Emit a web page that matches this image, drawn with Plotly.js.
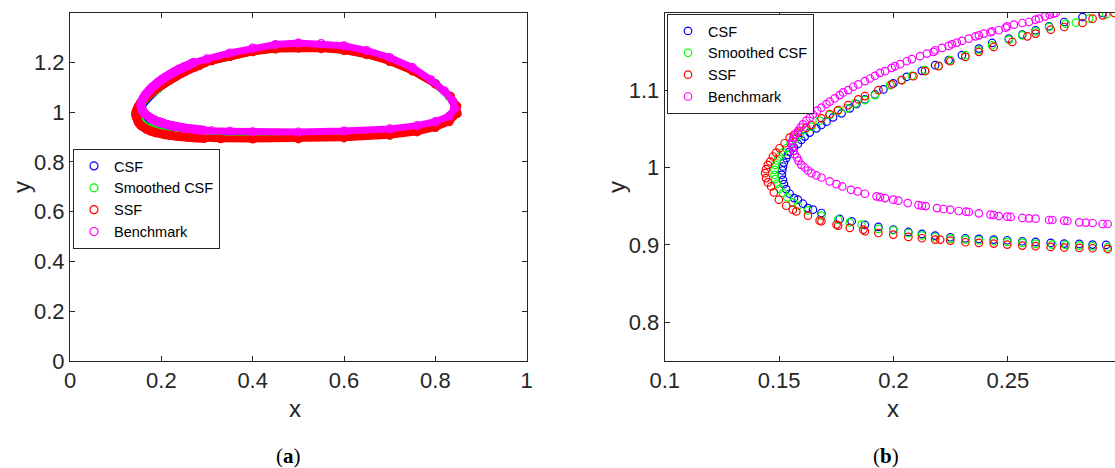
<!DOCTYPE html>
<html>
<head>
<meta charset="utf-8">
<script src="https://cdn.plot.ly/plotly-3.0.1.min.js"></script>
<style>html,body{margin:0;padding:0;background:#fff;}#chart{width:1115px;height:468px;}</style>
</head>
<body>
<div id="chart"></div>
<script>
// ---- Data ----
const seriesNames = ['CSF', 'Smoothed CSF', 'SSF', 'Benchmark'];

const csfX = [0.2914,0.2826,0.2746,0.2680,0.2621,0.2563,0.2504,0.2431,0.2373,0.2299,0.2241,0.2182,0.2124,0.2058,0.1999,0.1956,0.1919,0.1875,0.1838,0.1809,0.1773,0.1736,0.1707,0.1685,0.1663,0.1634,0.1612,0.1597,0.1582,0.1565,0.1546,0.1538,0.1531,0.1521,0.1517,0.1514,0.1512,0.1517,0.1521,0.1531,0.1546,0.1565,0.1582,0.1604,0.1626,0.1648,0.1685,0.1765,0.1817,0.1875,0.1934,0.1999,0.2065,0.2124,0.2182,0.2248,0.2314,0.2373,0.2438,0.2497,0.2563,0.2621,0.2687,0.2746,0.2812,0.2870,0.2929,
  0.33,0.40,0.50,0.60,0.70,0.76,0.80,0.83,0.845,0.843,0.83,0.80,0.75,0.70,0.65,0.60,0.55,0.50,0.45,0.40,0.35,0.31];
const csfY = [1.1996,1.1944,1.1880,1.1824,1.1773,1.1717,1.1665,1.1609,1.1536,1.1451,1.1386,1.1322,1.1249,1.1172,1.1086,1.1009,1.0944,1.0880,1.0820,1.0764,1.0700,1.0648,1.0592,1.0549,1.0506,1.0451,1.0399,1.0356,1.0305,1.0258,1.0206,1.0163,1.0120,1.0064,1.0013,0.9961,0.9906,0.9841,0.9785,0.9721,0.9661,0.9605,0.9584,0.9532,0.9476,0.9455,0.9412,0.9335,0.9305,0.9258,0.9232,0.9197,0.9167,0.9142,0.9120,0.9099,0.9086,0.9077,0.9069,0.9060,0.9047,0.9039,0.9026,0.9017,0.9013,0.9004,0.9000,
  0.8985,0.8975,0.8975,0.9010,0.9110,0.9250,0.9420,0.9650,0.9950,1.0250,1.0650,1.1150,1.1680,1.2060,1.2330,1.2500,1.2580,1.2600,1.2560,1.2450,1.2260,1.2070];

const smoothX = [0.2965,0.2929,0.2855,0.2797,0.2753,0.2680,0.2621,0.2563,0.2504,0.2431,0.2373,0.2314,0.2248,0.2197,0.2138,0.2080,0.2036,0.1985,0.1919,0.1875,0.1831,0.1795,0.1755,0.1721,0.1677,0.1641,0.1612,0.1590,0.1568,0.1550,0.1531,0.1517,0.1502,0.1492,0.1483,0.1480,0.1480,0.1483,0.1492,0.1502,0.1517,0.1536,0.1560,0.1582,0.1626,0.1685,0.1758,0.1809,0.1860,0.1934,0.1999,0.2065,0.2124,0.2182,0.2248,0.2314,0.2373,0.2438,0.2497,0.2563,0.2621,0.2694,0.2753,0.2812,0.2870,0.2936,
  0.33,0.40,0.50,0.60,0.70,0.76,0.80,0.83,0.846,0.844,0.83,0.80,0.75,0.70,0.65,0.60,0.55,0.50,0.45,0.40,0.35,0.31];
const smoothY = [1.1996,1.1979,1.1923,1.1871,1.1858,1.1815,1.1760,1.1708,1.1652,1.1579,1.1515,1.1451,1.1386,1.1313,1.1258,1.1185,1.1129,1.1064,1.0936,1.0871,1.0828,1.0764,1.0730,1.0678,1.0605,1.0528,1.0485,1.0421,1.0365,1.0313,1.0249,1.0193,1.0142,1.0090,1.0034,0.9970,0.9906,0.9850,0.9790,0.9725,0.9670,0.9614,0.9549,0.9506,0.9446,0.9378,0.9326,0.9292,0.9262,0.9206,0.9189,0.9154,0.9124,0.9099,0.9082,0.9069,0.9060,0.9047,0.9039,0.9026,0.9017,0.9004,0.9000,0.8991,0.8983,0.8970,
  0.8960,0.8955,0.8960,0.9000,0.9100,0.9240,0.9410,0.9640,0.9950,1.0250,1.0640,1.1140,1.1670,1.2050,1.2320,1.2490,1.2570,1.2590,1.2550,1.2440,1.2250,1.2080];

const ssfX = [0.2965,0.2914,0.2870,0.2826,0.2746,0.2687,0.2621,0.2585,0.2519,0.2438,0.2373,0.2314,0.2248,0.2197,0.2138,0.2087,0.2036,0.1992,0.1934,0.1875,0.1846,0.1802,0.1758,0.1721,0.1685,0.1641,0.1619,0.1582,0.1565,0.1546,0.1524,0.1502,0.1487,0.1473,0.1461,0.1451,0.1443,0.1439,0.1443,0.1451,0.1465,0.1477,0.1499,0.1531,0.1560,0.1575,0.1626,0.1677,0.1685,0.1751,0.1758,0.1809,0.1868,0.1875,0.1934,0.1999,0.2065,0.2124,0.2182,0.2204,0.2248,0.2314,0.2373,0.2438,0.2497,0.2563,0.2621,0.2687,0.2746,0.2812,0.2870,0.2936,
  0.33,0.40,0.50,0.60,0.70,0.76,0.80,0.83,0.848,0.847,0.833,0.80,0.75,0.70,0.65,0.60,0.55,0.50,0.45,0.40,0.35,0.31];
const ssfY = [1.1996,1.1966,1.1923,1.1867,1.1815,1.1781,1.1730,1.1695,1.1622,1.1558,1.1494,1.1429,1.1373,1.1309,1.1245,1.1180,1.1129,1.1073,1.1000,1.0923,1.0880,1.0807,1.0742,1.0691,1.0635,1.0549,1.0515,1.0451,1.0421,1.0386,1.0313,1.0249,1.0193,1.0142,1.0077,1.0034,0.9979,0.9927,0.9863,0.9807,0.9755,0.9678,0.9584,0.9506,0.9455,0.9433,0.9378,0.9313,0.9305,0.9262,0.9249,0.9219,0.9197,0.9176,0.9154,0.9133,0.9103,0.9086,0.9069,0.9069,0.9056,0.9034,0.9026,0.9017,0.9004,0.8991,0.8983,0.8974,0.8966,0.8961,0.8957,0.8948,
  0.8935,0.8925,0.8930,0.8970,0.9070,0.9210,0.9390,0.9620,0.9950,1.0250,1.0640,1.1130,1.1660,1.2040,1.2310,1.2480,1.2560,1.2580,1.2540,1.2430,1.2240,1.2070];

const benchX = [0.2709,0.2699,0.2683,0.2662,0.2636,0.2621,0.2592,0.2563,0.2526,0.2497,0.2490,0.2460,0.2431,0.2424,0.2394,0.2373,0.2358,0.2329,0.2299,0.2277,0.2255,0.2241,0.2212,0.2182,0.2175,0.2146,0.2116,0.2080,0.2058,0.2029,0.2007,0.1992,0.1963,0.1941,0.1919,0.1897,0.1875,0.1846,0.1824,0.1802,0.1780,0.1765,0.1743,0.1721,0.1707,0.1685,0.1667,0.1648,0.1634,0.1619,0.1604,0.1594,0.1582,0.1571,0.1563,0.1558,0.1556,
  0.1558,0.1562,0.1568,0.1578,0.1585,0.1597,0.1612,0.1626,0.1641,0.1663,0.1685,0.1721,0.1751,0.1776,0.1814,0.1843,0.1875,0.1926,0.1941,0.1963,0.1999,0.2021,0.2062,0.2109,0.2124,0.2141,0.2190,0.2219,0.2248,0.2285,0.2317,0.2329,0.2373,0.2424,0.2438,0.2460,0.2497,0.2512,0.2563,0.2592,0.2621,0.2680,0.2694,0.2746,0.2760,0.2812,0.2841,0.2870,0.2914,0.2936,
  0.31,0.35,0.40,0.50,0.60,0.70,0.76,0.80,0.83,0.842,0.838,0.82,0.79,0.75,0.70,0.65,0.60,0.55,0.50,0.45,0.40,0.35,0.30];
const benchY = [1.1996,1.1987,1.1974,1.1953,1.1923,1.1910,1.1880,1.1867,1.1845,1.1824,1.1807,1.1773,1.1760,1.1747,1.1730,1.1708,1.1695,1.1665,1.1635,1.1614,1.1592,1.1571,1.1545,1.1515,1.1494,1.1472,1.1438,1.1399,1.1373,1.1335,1.1309,1.1288,1.1245,1.1223,1.1185,1.1150,1.1116,1.1073,1.1043,1.1000,1.0970,1.0936,1.0893,1.0850,1.0820,1.0773,1.0734,1.0687,1.0644,1.0605,1.0558,1.0519,1.0472,1.0429,1.0386,1.0343,1.0300,
  1.0258,1.0215,1.0172,1.0129,1.0086,1.0034,1.0000,0.9961,0.9927,0.9897,0.9871,0.9820,0.9785,0.9755,0.9712,0.9691,0.9661,0.9627,0.9618,0.9605,0.9584,0.9571,0.9541,0.9515,0.9506,0.9502,0.9476,0.9464,0.9455,0.9438,0.9429,0.9425,0.9408,0.9391,0.9386,0.9373,0.9365,0.9361,0.9348,0.9343,0.9339,0.9322,0.9322,0.9313,0.9309,0.9292,0.9288,0.9283,0.9270,0.9270,
  0.9255,0.9235,0.9215,0.9205,0.9240,0.9330,0.9460,0.9620,0.9840,1.0150,1.0450,1.0850,1.1300,1.1790,1.2200,1.2480,1.2670,1.2760,1.2780,1.2720,1.2580,1.2380,1.2140];

// Tick values / labels
const leftXTicks = [0, 0.2, 0.4, 0.6, 0.8, 1];
const leftXLabels = ['0', '0.2', '0.4', '0.6', '0.8', '1'];
const leftYTicks = [0, 0.2, 0.4, 0.6, 0.8, 1, 1.2];
const leftYLabels = ['0', '0.2', '0.4', '0.6', '0.8', '1', '1.2'];
const rightXTicks = [0.1, 0.15, 0.2, 0.25];
const rightXLabels = ['0.1', '0.15', '0.2', '0.25'];
const rightYTicks = [0.8, 0.9, 1, 1.1];
const rightYLabels = ['0.8', '0.9', '1', '1.1'];

// ---- Styling ----
const colors = ['#0000ff', '#00ff00', '#ff0000', '#ff00ff'];
const xs = [csfX, smoothX, ssfX, benchX];
const ys = [csfY, smoothY, ssfY, benchY];
const SANS = '"Liberation Sans", Arial, Helvetica, sans-serif';
const AX = '#262626';

const traces = [];
// left panel: band (closed path) + ring markers
for (let i = 0; i < 4; i++) {
  traces.push({
    x: xs[i].concat([xs[i][0]]), y: ys[i].concat([ys[i][0]]),
    mode: 'lines', line: {color: colors[i], width: 7},
    xaxis: 'x', yaxis: 'y', showlegend: false, hoverinfo: 'skip'
  });
  traces.push({
    x: xs[i], y: ys[i], mode: 'markers', name: seriesNames[i],
    marker: {symbol: 'circle-open', size: 8, color: colors[i], line: {width: 1.2, color: colors[i]}},
    xaxis: 'x', yaxis: 'y', legend: 'legend'
  });
}
// right panel: zoomed markers
for (let i = 0; i < 4; i++) {
  traces.push({
    x: xs[i], y: ys[i], mode: 'markers', name: seriesNames[i],
    marker: {symbol: 'circle-open', size: 7.5, color: colors[i], line: {width: 1.2, color: colors[i]}},
    xaxis: 'x2', yaxis: 'y2', legend: 'legend2'
  });
}

const W = 1115, H = 468;
const baseAxis = {
  showline: true, linecolor: AX, linewidth: 1, ticks: 'inside', ticklen: 5, tickwidth: 1,
  tickcolor: AX, showgrid: false, zeroline: false, mirror: 'ticks',
  tickfont: {family: SANS, size: 22, color: AX}, tickmode: 'array'
};
const yDom = [1 - 361 / H, 1 - 12.7 / H];
const legendBase = {
  xanchor: 'left', yanchor: 'top', bgcolor: '#ffffff', bordercolor: AX, borderwidth: 1,
  font: {family: SANS, size: 14.5, color: '#000'}, itemwidth: 30
};

const titleFont = {family: SANS, size: 24, color: AX};
const capFont = {family: '"Liberation Serif", "DejaVu Serif", serif', size: 21, color: '#000'};
const layout = {
  width: W, height: H, margin: {l: 0, r: 0, t: 0, b: 0},
  paper_bgcolor: '#fff', plot_bgcolor: '#fff', showlegend: true,
  xaxis: Object.assign({}, baseAxis, {domain: [70 / W, 526.7 / W], range: [0, 1], tickvals: leftXTicks, ticktext: leftXLabels, anchor: 'y'}),
  yaxis: Object.assign({}, baseAxis, {domain: yDom, range: [0, 1.4], tickvals: leftYTicks, ticktext: leftYLabels, anchor: 'x'}),
  xaxis2: Object.assign({}, baseAxis, {domain: [664.7 / W, 1], range: [0.1, 0.2968], tickvals: rightXTicks, ticktext: rightXLabels, anchor: 'y2'}),
  yaxis2: Object.assign({}, baseAxis, {domain: yDom, range: [0.75, 1.2], tickvals: rightYTicks, ticktext: rightYLabels, anchor: 'x2', mirror: false}),
  legend: Object.assign({}, legendBase, {x: 73 / W, y: 1 - 149 / H}),
  legend2: Object.assign({}, legendBase, {x: 667 / W, y: 1 - 14 / H}),
  annotations: [
    {text: 'x', xref: 'paper', yref: 'paper', x: 295 / W, y: 1 - 408 / H, showarrow: false, xanchor: 'center', yanchor: 'middle', font: titleFont},
    {text: 'y', xref: 'paper', yref: 'paper', x: 21 / W, y: 1 - 187 / H, showarrow: false, textangle: -90, xanchor: 'center', yanchor: 'middle', font: titleFont},
    {text: 'x', xref: 'paper', yref: 'paper', x: 893 / W, y: 1 - 408 / H, showarrow: false, xanchor: 'center', yanchor: 'middle', font: titleFont},
    {text: 'y', xref: 'paper', yref: 'paper', x: 616 / W, y: 1 - 187 / H, showarrow: false, textangle: -90, xanchor: 'center', yanchor: 'middle', font: titleFont},
    {text: '(<b>a</b>)', xref: 'paper', yref: 'paper', x: 288 / W, y: 1 - 456 / H, showarrow: false, xanchor: 'center', yanchor: 'middle', font: capFont},
    {text: '(<b>b</b>)', xref: 'paper', yref: 'paper', x: 886 / W, y: 1 - 456 / H, showarrow: false, xanchor: 'center', yanchor: 'middle', font: capFont}
  ]
};

Plotly.newPlot('chart', traces, layout, {displayModeBar: false, staticPlot: true});
</script>
</body>
</html>
